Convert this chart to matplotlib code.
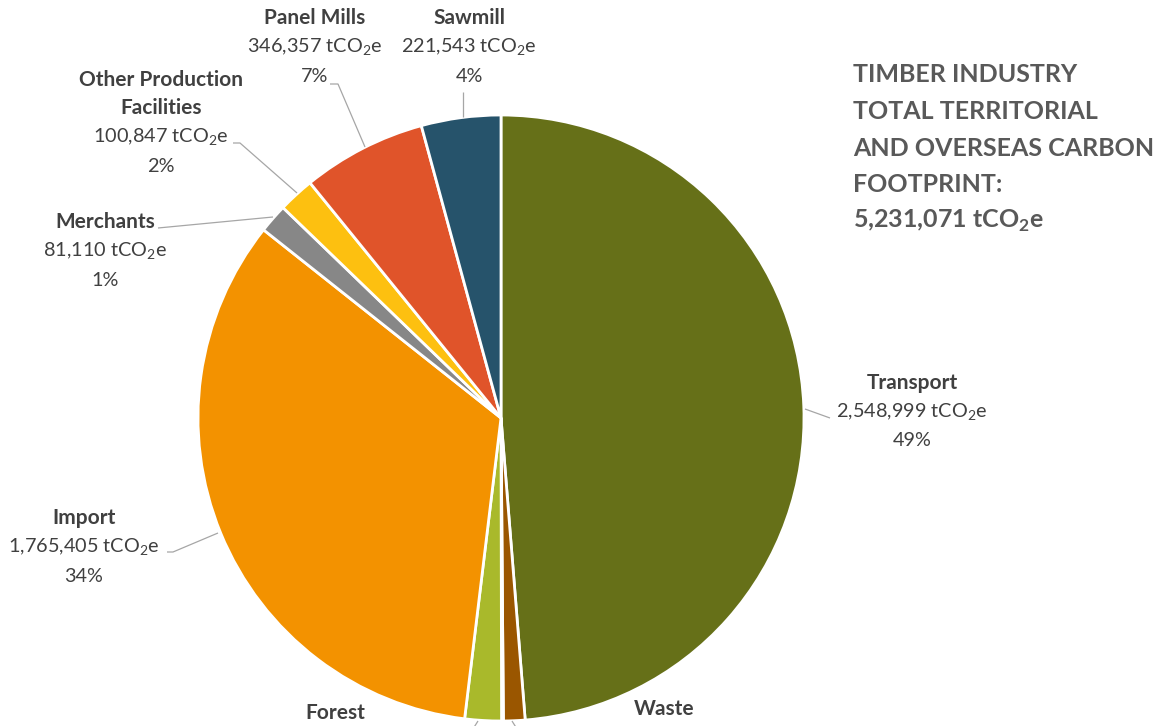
import matplotlib
matplotlib.use("Agg")
import matplotlib.pyplot as plt

# emissions by stage, tCO2e (clockwise from 12 o'clock)
categories = ["Transport", "Waste", "Other", "Forest", "Import", "Merchants",
              "Other Production\nFacilities", "Panel Mills", "Sawmill"]
values = [2548999, 60000, 5000, 101810, 1765405, 81110, 100847, 346357, 221543]
percent_labels = ["49%", "1%", "0%", "2%", "34%", "1%", "2%", "7%", "4%"]
colors = ["#667018", "#9a5600", "#3a8ac4", "#a9b92b", "#f39200", "#878787",
          "#fdc010", "#e0542a", "#26536b"]
total_label = "5,231,071"

# label centre, leader path in pixel coords (y down), show value lines?
label_pos = {
    "Transport": ((912, 383), [(830, 418), (805, 409)], True),
    "Waste": ((664, 709), [(512, 721), (524, 740)], False),
    "Forest": ((335, 713), [(478, 721), (466, 740)], False),
    "Import": ((84, 518), [(167, 552), (173, 552), (218, 533)], True),
    "Merchants": ((105, 222), [(158, 228), (273, 217)], True),
    "Other Production\nFacilities": ((161, 94), [(233, 143), (240, 143), (297, 193)], True),
    "Panel Mills": ((315, 18), [(330, 84), (338, 84), (365, 147)], True),
    "Sawmill": ((469, 18), [(463, 92), (463, 117)], True),
}

W, H = 1168, 726
plt.rcParams["font.family"] = ["Lato", "DejaVu Sans"]
plt.rcParams["mathtext.fontset"] = "custom"
plt.rcParams["mathtext.rm"] = "Lato"
plt.rcParams["mathtext.bf"] = "Lato:bold"

fig = plt.figure(figsize=(W / 100, H / 100), dpi=100)
ax = fig.add_axes([0, 0, 1, 1])

# pie drawn in pixel space; y is flipped so clockwise order comes out naturally
ax.pie(values, colors=colors, startangle=-90, counterclock=True,
       center=(501, 418), radius=303, frame=True,
       wedgeprops=dict(edgecolor="white", linewidth=2))
ax.set_xlim(0, W)
ax.set_ylim(H, 0)
ax.set_aspect("equal")
ax.axis("off")

txt = "#404040"
line_h = 29
for name, val, pct in zip(categories, values, percent_labels):
    if name not in label_pos:
        continue
    (x, y), path, details = label_pos[name]
    n_bold = name.count("\n") + 1
    ax.text(x, y, name, ha="center", va="center", fontsize=15,
            fontweight="bold", color=txt, linespacing=1.5)
    if details:
        y0 = y + line_h * (1.5 if n_bold == 2 else 1)
        ax.text(x, y0, f"{val:,} tCO$_2$e", ha="center", va="center",
                fontsize=14.3, color=txt)
        ax.text(x, y0 + line_h, pct, ha="center", va="center",
                fontsize=14.3, color=txt)
    px, py = zip(*path)
    ax.plot(px, py, color="#a6a6a6", lw=0.9, solid_capstyle="butt")

title_lines = ["TIMBER INDUSTRY", "TOTAL TERRITORIAL", "AND OVERSEAS CARBON",
               "FOOTPRINT:", total_label + r" tCO$_\mathbf{2}$e"]
for i, line in enumerate(title_lines):
    ax.text(853, 75 + i * 36.5, line, ha="left", va="center", fontsize=18,
            fontweight="bold", color="#595959")

fig.savefig("out.png", dpi=100)
